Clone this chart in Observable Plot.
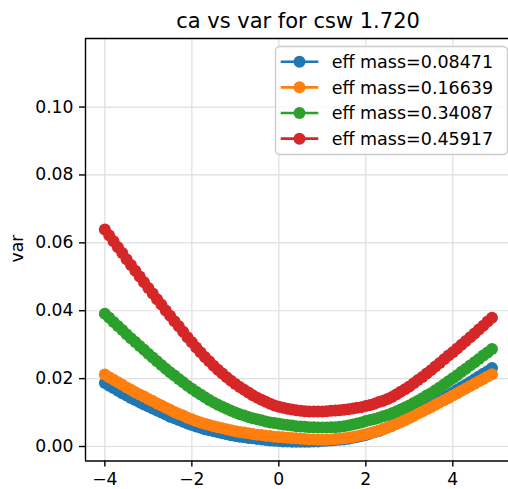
<!DOCTYPE html>
<html><head><meta charset="utf-8">
<script src="https://cdn.jsdelivr.net/npm/d3@7"></script>
<script src="https://cdn.jsdelivr.net/npm/@observablehq/plot@0.6"></script>
<style>
html,body{margin:0;padding:0;background:#fff;}
#chart{width:508px;height:489px;overflow:hidden;}
</style>
</head><body><div id="chart"></div>
<script>
const titleText = "ca vs var for csw 1.720";
const yLabel = "var";
const seriesNames = ["eff mass=0.08471", "eff mass=0.16639", "eff mass=0.34087", "eff mass=0.45917"];
const seriesColors = ["#1f77b4", "#ff7f0e", "#2ca02c", "#d62728"];
const xTicks = [-4, -2, 0, 2, 4];
const yTicks = [0, 0.02, 0.04, 0.06, 0.08, 0.10];

const ca = [
  -4.0,-3.9,-3.8,-3.7,-3.6,-3.5,-3.4,-3.3,-3.2,-3.1,
  -3.0,-2.9,-2.8,-2.7,-2.6,-2.5,-2.4,-2.3,-2.2,-2.1,
  -2.0,-1.9,-1.8,-1.7,-1.6,-1.5,-1.4,-1.3,-1.2,-1.1,
  -1.0,-0.9,-0.8,-0.7,-0.6,-0.5,-0.4,-0.3,-0.2,-0.1,
  0.0,0.1,0.2,0.3,0.4,0.5,0.6,0.7,0.8,0.9,
  1.0,1.1,1.2,1.3,1.4,1.5,1.6,1.7,1.8,1.9,
  2.0,2.1,2.2,2.3,2.4,2.5,2.6,2.7,2.8,2.9,
  3.0,3.1,3.2,3.3,3.4,3.5,3.6,3.7,3.8,3.9,
  4.0,4.1,4.2,4.3,4.4,4.5,4.6,4.7,4.8,4.9
];

const var08471 = [
  .0187,.0179,.0172,.0164,.0157,.0150,.0143,.0137,.0130,.0124,
  .0118,.0112,.0106,.0100,.0094,.0088,.0083,.0078,.0073,.0068,
  .0063,.0059,.0055,.0051,.0048,.0045,.0042,.0039,.0036,.0033,
  .0031,.0029,.0027,.0025,.0024,.0022,.0021,.0019,.0018,.0017,
  .0016,.0015,.0015,.0014,.0014,.0014,.0014,.0014,.0015,.0015,
  .0016,.0017,.0018,.0019,.0020,.0021,.0023,.0026,.0028,.0031,
  .0034,.0038,.0042,.0046,.0051,.0056,.0061,.0067,.0073,.0079,
  .0086,.0093,.0100,.0107,.0114,.0121,.0128,.0136,.0143,.0151,
  .0159,.0167,.0175,.0182,.0190,.0198,.0206,.0214,.0222,.0231
];
const var16639 = [
  .0212,.0204,.0197,.0189,.0182,.0174,.0167,.0160,.0153,.0147,
  .0140,.0134,.0127,.0121,.0114,.0108,.0102,.0096,.0091,.0085,
  .0080,.0075,.0071,.0067,.0063,.0060,.0057,.0054,.0051,.0048,
  .0045,.0043,.0041,.0039,.0037,.0035,.0034,.0032,.0031,.0029,
  .0028,.0027,.0026,.0025,.0024,.0023,.0022,.0021,.0021,.0020,
  .0020,.0020,.0021,.0022,.0023,.0024,.0026,.0028,.0030,.0033,
  .0036,.0039,.0043,.0047,.0051,.0056,.0061,.0066,.0072,.0078,
  .0084,.0090,.0097,.0103,.0110,.0116,.0123,.0130,.0136,.0143,
  .0150,.0157,.0164,.0171,.0178,.0185,.0192,.0199,.0206,.0213
];
const var34087 = [
  .0391,.0379,.0367,.0355,.0343,.0331,.0319,.0308,.0296,.0285,
  .0273,.0262,.0251,.0240,.0229,.0219,.0209,.0199,.0189,.0179,
  .0170,.0161,.0153,.0145,.0137,.0130,.0123,.0117,.0111,.0105,
  .0100,.0095,.0091,.0087,.0083,.0080,.0077,.0074,.0071,.0069,
  .0067,.0065,.0063,.0062,.0060,.0059,.0058,.0057,.0057,.0056,
  .0056,.0056,.0057,.0057,.0058,.0060,.0062,.0065,.0068,.0071,
  .0075,.0078,.0081,.0085,.0089,.0093,.0098,.0103,.0109,.0115,
  .0121,.0128,.0135,.0142,.0150,.0157,.0166,.0174,.0183,.0192,
  .0201,.0210,.0220,.0229,.0239,.0248,.0258,.0268,.0277,.0287
];
const var45917 = [
  .0639,.0622,.0605,.0587,.0570,.0552,.0535,.0518,.0501,.0484,
  .0467,.0451,.0434,.0418,.0401,.0385,.0369,.0354,.0338,.0322,
  .0307,.0292,.0278,.0264,.0251,.0238,.0226,.0215,.0204,.0194,
  .0184,.0175,.0167,.0159,.0151,.0144,.0138,.0132,.0126,.0121,
  .0117,.0114,.0111,.0109,.0107,.0105,.0104,.0103,.0103,.0103,
  .0103,.0104,.0105,.0106,.0107,.0108,.0110,.0112,.0114,.0116,
  .0119,.0122,.0126,.0131,.0135,.0140,.0146,.0153,.0161,.0169,
  .0177,.0186,.0196,.0205,.0215,.0225,.0236,.0246,.0257,.0268,
  .0278,.0289,.0300,.0311,.0322,.0333,.0345,.0356,.0368,.0379
];

const seriesValues = [var08471, var16639, var34087, var45917];
const xDomain = [-4.445, 5.28];
const yDomain = [-0.00427, 0.1202];

const marks = [
  Plot.gridX(xTicks, {stroke: "#dedede", strokeOpacity: 1, strokeWidth: 1.2}),
  Plot.gridY(yTicks, {stroke: "#dedede", strokeOpacity: 1, strokeWidth: 1.2})
];
seriesNames.forEach((name, i) => {
  const d = ca.map((x, j) => ({ca: x, var: seriesValues[i][j], series: name}));
  marks.push(Plot.line(d, {x: "ca", y: "var", stroke: seriesColors[i], strokeWidth: 2.6}));
  marks.push(Plot.dot(d, {x: "ca", y: "var", fill: seriesColors[i], r: 6}));
});
marks.push(
  Plot.axisX(xTicks, {tickSize: 6, tickPadding: 6, strokeWidth: 1.4, label: null,
    tickFormat: d => (d < 0 ? "\u2212" : "") + Math.abs(d)}),
  Plot.axisY(yTicks, {tickSize: 6, tickPadding: 6, strokeWidth: 1.4, label: null,
    tickFormat: d3.format(".2f")}),
  Plot.ruleX([xDomain[0]], {stroke: "black", strokeWidth: 1.4}),
  Plot.ruleY([yDomain[0], yDomain[1]], {stroke: "black", strokeWidth: 1.4})
);

const plot = Plot.plot({
  width: 508, height: 489,
  marginLeft: 85, marginRight: 0, marginTop: 38, marginBottom: 28.5,
  x: {domain: xDomain},
  y: {domain: yDomain},
  style: {fontFamily: "DejaVu Sans", fontSize: "17.2px", background: "white", color: "black"},
  marks
});
document.getElementById("chart").appendChild(plot);

const svg = d3.select(plot);
svg.selectAll("g[aria-label='x-axis tick label'], g[aria-label='y-axis tick label']")
  .attr("font-size", 17.2).attr("font-family", "DejaVu Sans");
svg.selectAll("g[aria-label='x-axis tick label'] text, g[aria-label='y-axis tick label'] text")
  .style("font-size", "17.2px");
svg.append("text").attr("x", 298).attr("y", 28).attr("text-anchor", "middle")
  .attr("font-family", "DejaVu Sans").attr("font-size", 21).attr("fill", "black").text(titleText);
svg.append("text").attr("transform", "translate(23,248.5) rotate(-90)").attr("text-anchor", "middle")
  .attr("font-family", "DejaVu Sans").attr("font-size", 17.2).attr("fill", "black").text(yLabel);

const lg = svg.append("g");
lg.append("rect").attr("x", 275.5).attr("y", 46.5).attr("width", 232).attr("height", 108)
  .attr("rx", 4.5).attr("fill", "white").attr("fill-opacity", 0.8)
  .attr("stroke", "#cccccc").attr("stroke-width", 1.4);
seriesNames.forEach((name, i) => {
  const cy = 61.7 + i * 25.65;
  lg.append("line").attr("x1", 280.7).attr("x2", 318.3).attr("y1", cy).attr("y2", cy)
    .attr("stroke", seriesColors[i]).attr("stroke-width", 2.6);
  lg.append("circle").attr("cx", 299.5).attr("cy", cy).attr("r", 6).attr("fill", seriesColors[i]);
  lg.append("text").attr("x", 331.7).attr("y", cy).attr("dy", "0.36em").attr("text-anchor", "start")
    .attr("font-family", "DejaVu Sans").attr("font-size", 17.5).attr("fill", "black").text(name);
});
</script>
</body></html>
